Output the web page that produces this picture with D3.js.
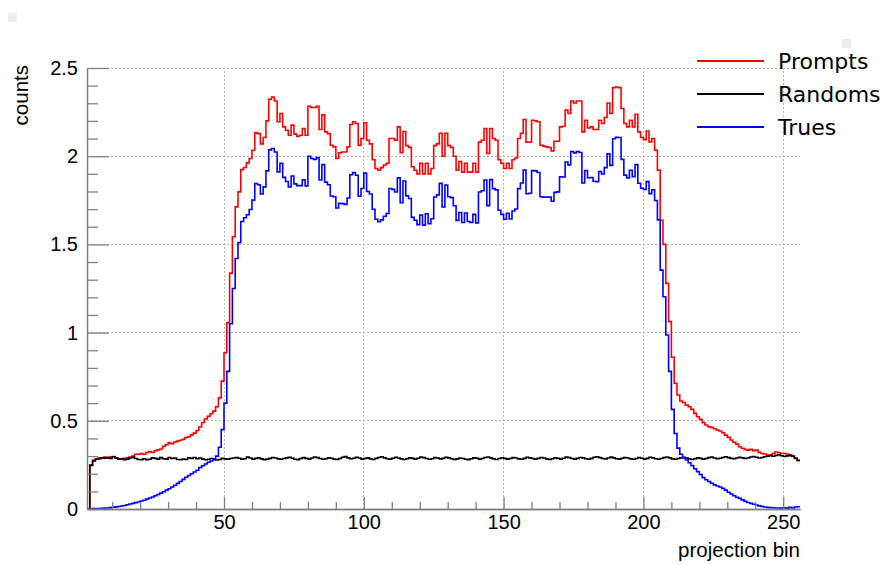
<!DOCTYPE html>
<html>
<head>
<meta charset="utf-8">
<script src="https://cdn.jsdelivr.net/npm/d3@7.8.5/dist/d3.min.js"></script>
<style>
  html, body { margin: 0; padding: 0; background: #fff; }
  svg { display: block; }
</style>
</head>
<body>
<div id="chart"></div>
<script>
// one value per projection bin, bin k spans [k, k+1], k = 1..255
const prompts = [
  0, 0.25, 0.277, 0.285, 0.29, 0.29, 0.295, 0.29, 0.295, 0.298,
  0.29, 0.285, 0.285, 0.288, 0.29, 0.295, 0.30, 0.31, 0.31, 0.315,
  0.31, 0.32, 0.325, 0.32, 0.33, 0.335, 0.34, 0.355, 0.365, 0.375,
  0.37, 0.38, 0.385, 0.39, 0.395, 0.405, 0.41, 0.42, 0.43, 0.445,
  0.465, 0.49, 0.51, 0.525, 0.54, 0.555, 0.58, 0.63, 0.725, 0.886,
  1.055, 1.337, 1.543, 1.713, 1.798, 1.924, 1.936, 1.962, 1.987, 2.034,
  2.132, 2.128, 2.07, 2.106, 2.2, 2.323, 2.336, 2.313, 2.195, 2.242,
  2.166, 2.147, 2.119, 2.176, 2.125, 2.113, 2.119, 2.157, 2.119, 2.283,
  2.276, 2.276, 2.283, 2.151, 2.234, 2.138, 2.128, 2.062, 2.053, 1.987,
  2.019, 2.024, 2.024, 2.053, 2.18, 2.195, 2.185, 2.062, 2.1, 2.19,
  2.09, 2.07, 1.98, 1.93, 1.92, 1.935, 1.95, 1.96, 2.1, 2.1,
  2.09, 2.166, 2.02, 2.14, 2.06, 2.05, 1.94, 1.92, 1.9, 1.96,
  1.9, 1.96, 1.9, 1.93, 2.06, 2.07, 2.13, 2.0, 2.13, 2.06,
  2.05, 2.0, 1.92, 1.97, 1.91, 1.96, 1.91, 1.91, 1.96, 1.91,
  2.08, 2.09, 2.157, 2.015, 2.157, 2.1, 2.09, 1.98, 1.96, 1.93,
  1.96, 1.93, 1.98, 1.99, 2.1, 2.13, 2.208, 2.08, 2.08, 2.204,
  2.2, 2.195, 2.062, 2.057, 2.053, 2.049, 2.03, 2.085, 2.085, 2.166,
  2.17, 2.261, 2.242, 2.313, 2.302, 2.313, 2.313, 2.138, 2.204, 2.16,
  2.166, 2.151, 2.151, 2.204, 2.185, 2.219, 2.302, 2.242, 2.389, 2.392,
  2.389, 2.27, 2.185, 2.166, 2.204, 2.166, 2.238, 2.138, 2.106, 2.094,
  2.143, 2.081, 2.1, 2.034, 1.921, 1.637, 1.5, 1.279, 1.062, 0.86,
  0.712, 0.646, 0.612, 0.604, 0.589, 0.58, 0.565, 0.542, 0.523, 0.508,
  0.489, 0.476, 0.466, 0.463, 0.455, 0.448, 0.442, 0.432, 0.419, 0.406,
  0.391, 0.378, 0.368, 0.353, 0.344, 0.338, 0.334, 0.338, 0.331, 0.334,
  0.321, 0.315, 0.312, 0.306, 0.306, 0.315, 0.323, 0.319, 0.315, 0.315,
  0.312, 0.306, 0.3, 0.287, 0.274
];

const randoms = [
  0, 0.247, 0.272, 0.282, 0.285, 0.29, 0.288, 0.292, 0.287, 0.296,
  0.289, 0.283, 0.285, 0.28, 0.283, 0.29, 0.293, 0.286, 0.281, 0.28,
  0.285, 0.279, 0.282, 0.29, 0.287, 0.283, 0.291, 0.285, 0.283, 0.292,
  0.286, 0.289, 0.281, 0.279, 0.283, 0.281, 0.29, 0.287, 0.292, 0.285,
  0.289, 0.283, 0.279, 0.282, 0.286, 0.28, 0.278, 0.281, 0.287, 0.284,
  0.282, 0.286, 0.289, 0.291, 0.288, 0.283, 0.285, 0.294, 0.289, 0.283,
  0.287, 0.29, 0.284, 0.28, 0.283, 0.287, 0.292, 0.289, 0.284, 0.282,
  0.286, 0.29, 0.293, 0.288, 0.282, 0.28, 0.286, 0.291, 0.287, 0.283,
  0.289, 0.295, 0.291, 0.286, 0.282, 0.285, 0.29, 0.288, 0.283, 0.281,
  0.286, 0.293, 0.297, 0.29, 0.285, 0.288, 0.293, 0.289, 0.283, 0.286,
  0.29, 0.284, 0.281, 0.287, 0.292, 0.296, 0.29, 0.285, 0.283, 0.288,
  0.293, 0.289, 0.284, 0.281, 0.285, 0.29, 0.287, 0.283, 0.288, 0.294,
  0.291, 0.286, 0.282, 0.285, 0.291, 0.289, 0.284, 0.287, 0.293, 0.29,
  0.285, 0.281, 0.284, 0.289, 0.286, 0.282, 0.28, 0.285, 0.29, 0.288,
  0.283, 0.286, 0.292, 0.295, 0.29, 0.284, 0.281, 0.286, 0.29, 0.287,
  0.283, 0.286, 0.291, 0.289, 0.284, 0.282, 0.287, 0.293, 0.29, 0.286,
  0.283, 0.287, 0.292, 0.289, 0.284, 0.281, 0.285, 0.29, 0.287, 0.283,
  0.288, 0.294, 0.291, 0.286, 0.283, 0.287, 0.292, 0.29, 0.285, 0.282,
  0.287, 0.293, 0.296, 0.291, 0.286, 0.284, 0.289, 0.294, 0.29, 0.285,
  0.283, 0.288, 0.292, 0.289, 0.284, 0.282, 0.286, 0.291, 0.288, 0.283,
  0.287, 0.293, 0.29, 0.285, 0.282, 0.286, 0.291, 0.295, 0.29, 0.284,
  0.282, 0.286, 0.29, 0.293, 0.289, 0.284, 0.281, 0.285, 0.29, 0.287,
  0.283, 0.286, 0.291, 0.294, 0.289, 0.285, 0.288, 0.292, 0.296, 0.291,
  0.287, 0.285, 0.289, 0.293, 0.29, 0.286, 0.289, 0.295, 0.298, 0.293,
  0.289, 0.292, 0.296, 0.3, 0.303, 0.299, 0.304, 0.307, 0.302, 0.298,
  0.301, 0.304, 0.299, 0.288, 0.276
];

const trues = [
  0, 0, 0.002, 0.003, 0.003, 0.004, 0.005, 0.006, 0.008, 0.01,
  0.012, 0.014, 0.017, 0.02, 0.024, 0.028, 0.032, 0.036, 0.04, 0.045,
  0.05, 0.056, 0.062, 0.068, 0.075, 0.082, 0.09, 0.098, 0.107, 0.115,
  0.125, 0.135, 0.145, 0.156, 0.168, 0.18, 0.19, 0.2, 0.21, 0.22,
  0.235, 0.245, 0.255, 0.265, 0.272, 0.285, 0.30, 0.35, 0.45, 0.60,
  0.78, 1.05, 1.25, 1.42, 1.51, 1.63, 1.651, 1.668, 1.698, 1.751,
  1.845, 1.838, 1.786, 1.826, 1.917, 2.036, 2.044, 2.024, 1.911, 1.96,
  1.88, 1.857, 1.826, 1.888, 1.843, 1.833, 1.833, 1.866, 1.832, 2.0,
  1.987, 1.981, 1.992, 1.865, 1.952, 1.853, 1.838, 1.774, 1.77, 1.706,
  1.733, 1.731, 1.727, 1.763, 1.895, 1.907, 1.892, 1.773, 1.817, 1.904,
  1.8, 1.786, 1.699, 1.643, 1.628, 1.639, 1.66, 1.675, 1.817, 1.812,
  1.797, 1.877, 1.736, 1.859, 1.775, 1.76, 1.653, 1.637, 1.612, 1.666,
  1.609, 1.674, 1.618, 1.645, 1.769, 1.781, 1.846, 1.713, 1.837, 1.77,
  1.765, 1.719, 1.636, 1.681, 1.624, 1.678, 1.63, 1.625, 1.67, 1.622,
  1.797, 1.804, 1.865, 1.72, 1.867, 1.816, 1.809, 1.694, 1.67, 1.643,
  1.677, 1.644, 1.689, 1.701, 1.816, 1.848, 1.921, 1.787, 1.79, 1.918,
  1.917, 1.908, 1.77, 1.768, 1.769, 1.768, 1.745, 1.795, 1.798, 1.883,
  1.882, 1.967, 1.951, 2.027, 2.019, 2.026, 2.021, 1.848, 1.919, 1.878,
  1.879, 1.858, 1.855, 1.913, 1.899, 1.935, 2.013, 1.948, 2.099, 2.107,
  2.106, 1.982, 1.893, 1.877, 1.92, 1.884, 1.952, 1.847, 1.818, 1.811,
  1.856, 1.788, 1.81, 1.749, 1.639, 1.354, 1.203, 0.986, 0.78, 0.565,
  0.428, 0.345, 0.31, 0.29, 0.278, 0.262, 0.246, 0.228, 0.212, 0.196,
  0.178, 0.166, 0.156, 0.146, 0.137, 0.13, 0.125, 0.117, 0.107, 0.095,
  0.085, 0.075, 0.067, 0.06, 0.052, 0.043, 0.037, 0.032, 0.027, 0.023,
  0.018, 0.014, 0.011, 0.009, 0.008, 0.007, 0.006, 0.006, 0.005, 0.007,
  0.005, 0.009, 0.006, 0.011, 0.013
];

const seriesNames = ["Prompts", "Randoms", "Trues"];
const seriesColors = ["#ff0000", "#000000", "#0000ff"];
const xMajorTicks = [50, 100, 150, 200, 250];
const yMajorTicks = [0, 0.5, 1, 1.5, 2, 2.5];

const W = 885, H = 565;
const X0 = 87, X1 = 800, Y0 = 509, Y1 = 68;
const AXIS_COLOR = "#808080";
const GRID_COLOR = "#b4b4b4";
const LABEL_FONT = "'Liberation Sans', Arial, sans-serif";

const x = d3.scaleLinear().domain([1, 256]).range([X0, X1]);
const y = d3.scaleLinear().domain([0, 2.5]).range([Y0, Y1]);

const svg = d3.select("#chart").append("svg")
  .attr("width", W).attr("height", H);

// little grey markers in the corners of the canvas
svg.append("rect").attr("x", 8).attr("y", 13).attr("width", 9).attr("height", 9).attr("fill", "#eeeeee");
svg.append("rect").attr("x", 842).attr("y", 39).attr("width", 9).attr("height", 9).attr("fill", "#eeeeee");

// ── grid ────────────────────────────────────────────────────────────────
const grid = svg.append("g").attr("class", "grid")
  .attr("stroke", GRID_COLOR).attr("stroke-width", 1)
  .attr("stroke-dasharray", "2,2").attr("shape-rendering", "crispEdges");

grid.selectAll("line.gx").data(xMajorTicks).join("line").attr("class", "gx")
  .attr("x1", (d) => x(d)).attr("x2", (d) => x(d))
  .attr("y1", y(0)).attr("y2", y(2.5));

grid.selectAll("line.gy").data(yMajorTicks.filter((d) => d > 0)).join("line").attr("class", "gy")
  .attr("x1", x(1)).attr("x2", x(256))
  .attr("y1", (d) => y(d)).attr("y2", (d) => y(d));

// ── histograms ──────────────────────────────────────────────────────────
const step = d3.line()
  .x((d) => x(d[0]))
  .y((d) => y(d[1]))
  .curve(d3.curveStepAfter);

function toSteps(values) {
  const pts = values.map((v, i) => [i + 1, v]);
  pts.push([values.length + 1, values[values.length - 1]]);
  return pts;
}

[prompts, randoms, trues].forEach((vals, i) => {
  svg.append("path")
    .datum(toSteps(vals))
    .attr("fill", "none")
    .attr("stroke", seriesColors[i])
    .attr("stroke-width", 1.6)
    .attr("d", step);
});

// ── axes ────────────────────────────────────────────────────────────────
const xMinor = d3.range(10, 260, 10).filter((d) => d % 50 !== 0);
const yMinor = d3.range(1, 25).map((d) => d / 10).filter((d) => Math.round(d * 10) % 5 !== 0);

function styleAxis(g) {
  g.select(".domain").attr("stroke", AXIS_COLOR).attr("stroke-width", 1.3);
  g.selectAll(".tick line").attr("stroke", AXIS_COLOR).attr("stroke-width", 1.3);
  g.selectAll(".tick text")
    .attr("fill", "#000")
    .style("font-family", LABEL_FONT)
    .style("font-size", "20px");
}

svg.append("g")
  .attr("transform", `translate(0,${Y0})`)
  .call(d3.axisBottom(x).tickValues(xMinor).tickSizeInner(-7).tickSizeOuter(0).tickFormat(""))
  .call(styleAxis);

svg.append("g")
  .attr("transform", `translate(0,${Y0})`)
  .call(d3.axisBottom(x).tickValues(xMajorTicks).tickSizeInner(-12).tickSizeOuter(0).tickPadding(6).tickFormat(d3.format("d")))
  .call(styleAxis);

svg.append("g")
  .attr("transform", `translate(${X0},0)`)
  .call(d3.axisLeft(y).tickValues(yMinor).tickSizeInner(-11).tickSizeOuter(0).tickFormat(""))
  .call(styleAxis);

svg.append("g")
  .attr("transform", `translate(${X0},0)`)
  .call(d3.axisLeft(y).tickValues(yMajorTicks).tickSizeInner(-22).tickSizeOuter(0).tickPadding(9).tickFormat((d) => String(d)))
  .call(styleAxis);

// axis titles
svg.append("text")
  .attr("x", X1).attr("y", 557)
  .attr("text-anchor", "end")
  .style("font-family", LABEL_FONT)
  .style("font-size", "20.5px")
  .text("projection bin");

svg.append("text")
  .attr("transform", `translate(28,${Y1 - 3}) rotate(-90)`)
  .attr("text-anchor", "end")
  .style("font-family", LABEL_FONT)
  .style("font-size", "20.5px")
  .text("counts");

// ── legend ──────────────────────────────────────────────────────────────
const legend = svg.append("g").attr("class", "legend");
seriesNames.forEach((name, i) => {
  const ly = 61 + i * 33;
  legend.append("line")
    .attr("x1", 697).attr("x2", 764)
    .attr("y1", ly).attr("y2", ly)
    .attr("stroke", seriesColors[i]).attr("stroke-width", 2.2);
  legend.append("text")
    .attr("x", 778).attr("y", ly)
    .attr("dominant-baseline", "central")
    .style("font-family", "'DejaVu Sans', sans-serif")
    .style("font-size", "22px")
    .text(name);
});
</script>
</body>
</html>
